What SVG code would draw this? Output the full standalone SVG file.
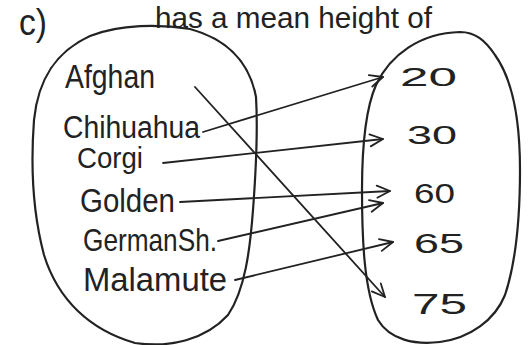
<svg xmlns="http://www.w3.org/2000/svg" width="528" height="345" viewBox="0 0 528 345">
<style>
.hw{font-family:"Liberation Sans","DejaVu Sans",sans-serif;fill:#222;}
.blob{fill:none;stroke:#222;stroke-width:2.2;stroke-linecap:round;stroke-linejoin:round;}
.conn{fill:none;stroke:#222;stroke-width:1.8;stroke-linecap:round;}
</style>
<defs>
<marker id="ah" markerUnits="userSpaceOnUse" markerWidth="20" markerHeight="20" refX="0" refY="0" viewBox="-16 -10 20 20" orient="auto">
<path d="M-13,-6 L0,0 L-13,6" fill="none" stroke="#222" stroke-width="1.8" stroke-linecap="round" stroke-linejoin="round"/>
</marker>
</defs>
<rect width="528" height="345" fill="#fff"/>
<g id="title">
<text class="hw" x="19" y="35" font-size="36" textLength="28" lengthAdjust="spacingAndGlyphs">c)</text>
<text class="hw" x="155" y="28" font-size="29" textLength="277" lengthAdjust="spacingAndGlyphs">has a mean height of</text>
</g>
<g id="domain">
<path class="blob" d="M256,97 C250,65 230,40 190,29 C160,24 120,24 90,36 C55,52 38,80 34,120 C31,160 32,210 44,255 C58,300 90,330 135,343 C170,348 205,340 228,315 C245,290 250,250 253,210 C256,170 258,130 256,97 Z"/>
</g>
<g id="codomain">
<path class="blob" d="M460,32 C420,33 390,55 376,85 C365,110 362,150 362,190 C362,240 364,290 378,320 C390,340 415,345 440,342 C470,338 495,320 505,295 C515,265 520,220 520,170 C520,120 513,80 495,55 C485,40 475,32 460,32 Z"/>
</g>
<g id="n-afghan"><text class="hw" x="65" y="88" font-size="33" textLength="90" lengthAdjust="spacingAndGlyphs">Afghan</text></g>
<g id="n-chihuahua"><text class="hw" x="63" y="138" font-size="31" textLength="137" lengthAdjust="spacingAndGlyphs">Chihuahua</text></g>
<g id="n-corgi"><text class="hw" x="77" y="168" font-size="29" textLength="66" lengthAdjust="spacingAndGlyphs">Corgi</text></g>
<g id="n-golden"><text class="hw" x="80" y="212" font-size="33" textLength="95" lengthAdjust="spacingAndGlyphs">Golden</text></g>
<g id="n-germansh"><text class="hw" x="83" y="251" font-size="32" textLength="134" lengthAdjust="spacingAndGlyphs">GermanSh.</text></g>
<g id="n-malamute"><text class="hw" x="83" y="291" font-size="33" textLength="144" lengthAdjust="spacingAndGlyphs">Malamute</text></g>
<g id="v-20"><text class="hw" x="400" y="86" font-size="25" textLength="57" lengthAdjust="spacingAndGlyphs">20</text></g>
<g id="v-30"><text class="hw" x="407" y="144" font-size="26" textLength="50" lengthAdjust="spacingAndGlyphs">30</text></g>
<g id="v-60"><text class="hw" x="414" y="203" font-size="27" textLength="41" lengthAdjust="spacingAndGlyphs">60</text></g>
<g id="v-65"><text class="hw" x="414" y="253" font-size="27" textLength="50" lengthAdjust="spacingAndGlyphs">65</text></g>
<g id="v-75"><text class="hw" x="412" y="314" font-size="29" textLength="55" lengthAdjust="spacingAndGlyphs">75</text></g>
<g id="connectors">
<line class="conn" x1="203" y1="132" x2="383" y2="77" marker-end="url(#ah)"/>
<line class="conn" x1="163" y1="163" x2="383" y2="139" marker-end="url(#ah)"/>
<line class="conn" x1="180" y1="202" x2="390" y2="191" marker-end="url(#ah)"/>
<line class="conn" x1="218" y1="241" x2="383" y2="203" marker-end="url(#ah)"/>
<line class="conn" x1="235" y1="280" x2="393" y2="242" marker-end="url(#ah)"/>
<line class="conn" x1="195" y1="87" x2="385" y2="297" marker-end="url(#ah)"/>
</g>
</svg>
